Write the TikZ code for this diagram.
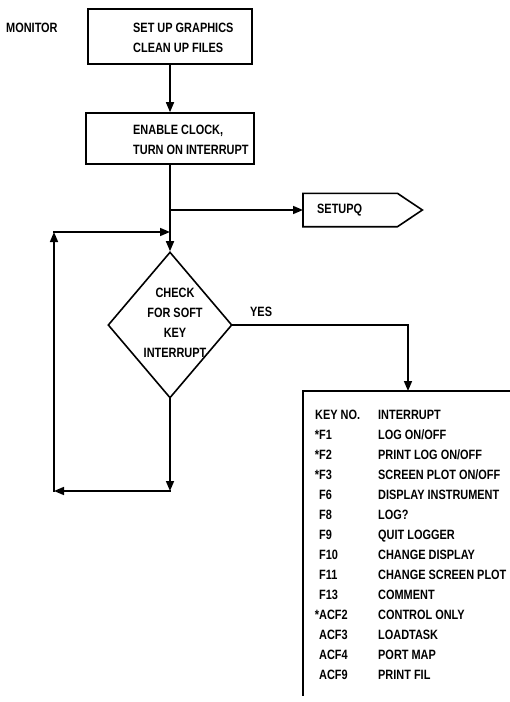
\documentclass[tikz,border=0pt]{standalone}
\usepackage{fontspec}
\setmainfont{Liberation Sans}[FakeStretch=0.81]
\usetikzlibrary{arrows.meta,shapes.geometric,calc}
\begin{document}
\begin{tikzpicture}[x=1pt,y=-1pt,
  every node/.style={font=\fontsize{13.5}{20}\selectfont\bfseries, inner sep=0pt},
  box/.style={draw, line width=1.6pt, minimum width=164pt, minimum height=55pt},
  flow/.style={line width=1.6pt, line cap=rect},
  arr/.style={flow, -{Triangle[length=10pt,width=8pt]}},
  txt/.style={anchor=west, align=left},
  row/.style={anchor=west, text height=9.5pt, text depth=0pt}]
\useasboundingbox (0,0) rectangle (510,702);
\node[txt] (mon) at (6,28) {MONITOR};
\node[box] (b1) at (170,36.5) {};
\node[txt] (t1) at (133,38) {SET UP GRAPHICS\\CLEAN UP FILES};
\node[box, minimum width=168pt, minimum height=51pt] (b2) at (170,138.5) {};
\node[txt] (t2) at (133,140) {ENABLE CLOCK,\\TURN ON INTERRUPT};
\node[diamond, draw, line width=1.6pt, minimum width=124pt, minimum height=146pt] (d) at (170,325) {};
\node[align=center] (dt) at (175,323) {CHECK\\FOR SOFT\\KEY\\INTERRUPT};
\node[minimum width=119pt, minimum height=33pt, anchor=west] (sq) at (303,210) {};
\draw[flow, line join=miter] (sq.north west) -- ($(sq.north east)+(-25,0)$) -- (sq.east) -- ($(sq.south east)+(-25,0)$) -- (sq.south west) -- cycle;
\node[anchor=west] (sqt) at (317,210) {SETUPQ};
\draw[arr] (b1) -- (b2);
\draw[arr] (b2) -- (d);
\coordinate (j1) at (170,210);
\draw[arr] (j1) -- (sq.west);
\coordinate (c1) at (170,491);
\coordinate (c2) at (54,491);
\coordinate (c3) at (54,232);
\coordinate (j2) at (170,232);
\draw[arr] (d.south) -- (c1);
\draw[arr] (c1) -- (c2);
\draw[arr] (c2) -- (c3);
\draw[arr] (c3) -- (j2);
\node[anchor=west] (yes) at (250,312) {YES};
\coordinate (tin) at (408,391);
\draw[arr] (d.east) -| (tin);
\coordinate (tl) at (303,391);
\coordinate (tr) at (510,391);
\coordinate (tb) at (303,695);
\draw[flow] (tr) -- (tl) -- (tb);
\node[row] (kh) at (315,415) {KEY NO.};
\node[row] (vh) at (378,415) {INTERRUPT};
\foreach \k/\v [count=\i] in {{\llap{*}F1}/{LOG ON/OFF},{\llap{*}F2}/{PRINT LOG ON/OFF},{\llap{*}F3}/{SCREEN PLOT ON/OFF},{F6}/{DISPLAY INSTRUMENT},{F8}/{LOG?},{F9}/{QUIT LOGGER},{F10}/{CHANGE DISPLAY},{F11}/{CHANGE SCREEN PLOT},{F13}/{COMMENT},{\llap{*}ACF2}/{CONTROL ONLY},{ACF3}/{LOADTASK},{ACF4}/{PORT  MAP},{ACF9}/{PRINT FIL}}{
  \node[row] (k\i) at (319,415+20*\i) {\k};
  \node[row] (v\i) at (378,415+20*\i) {\v};
}
\end{tikzpicture}
\end{document}
